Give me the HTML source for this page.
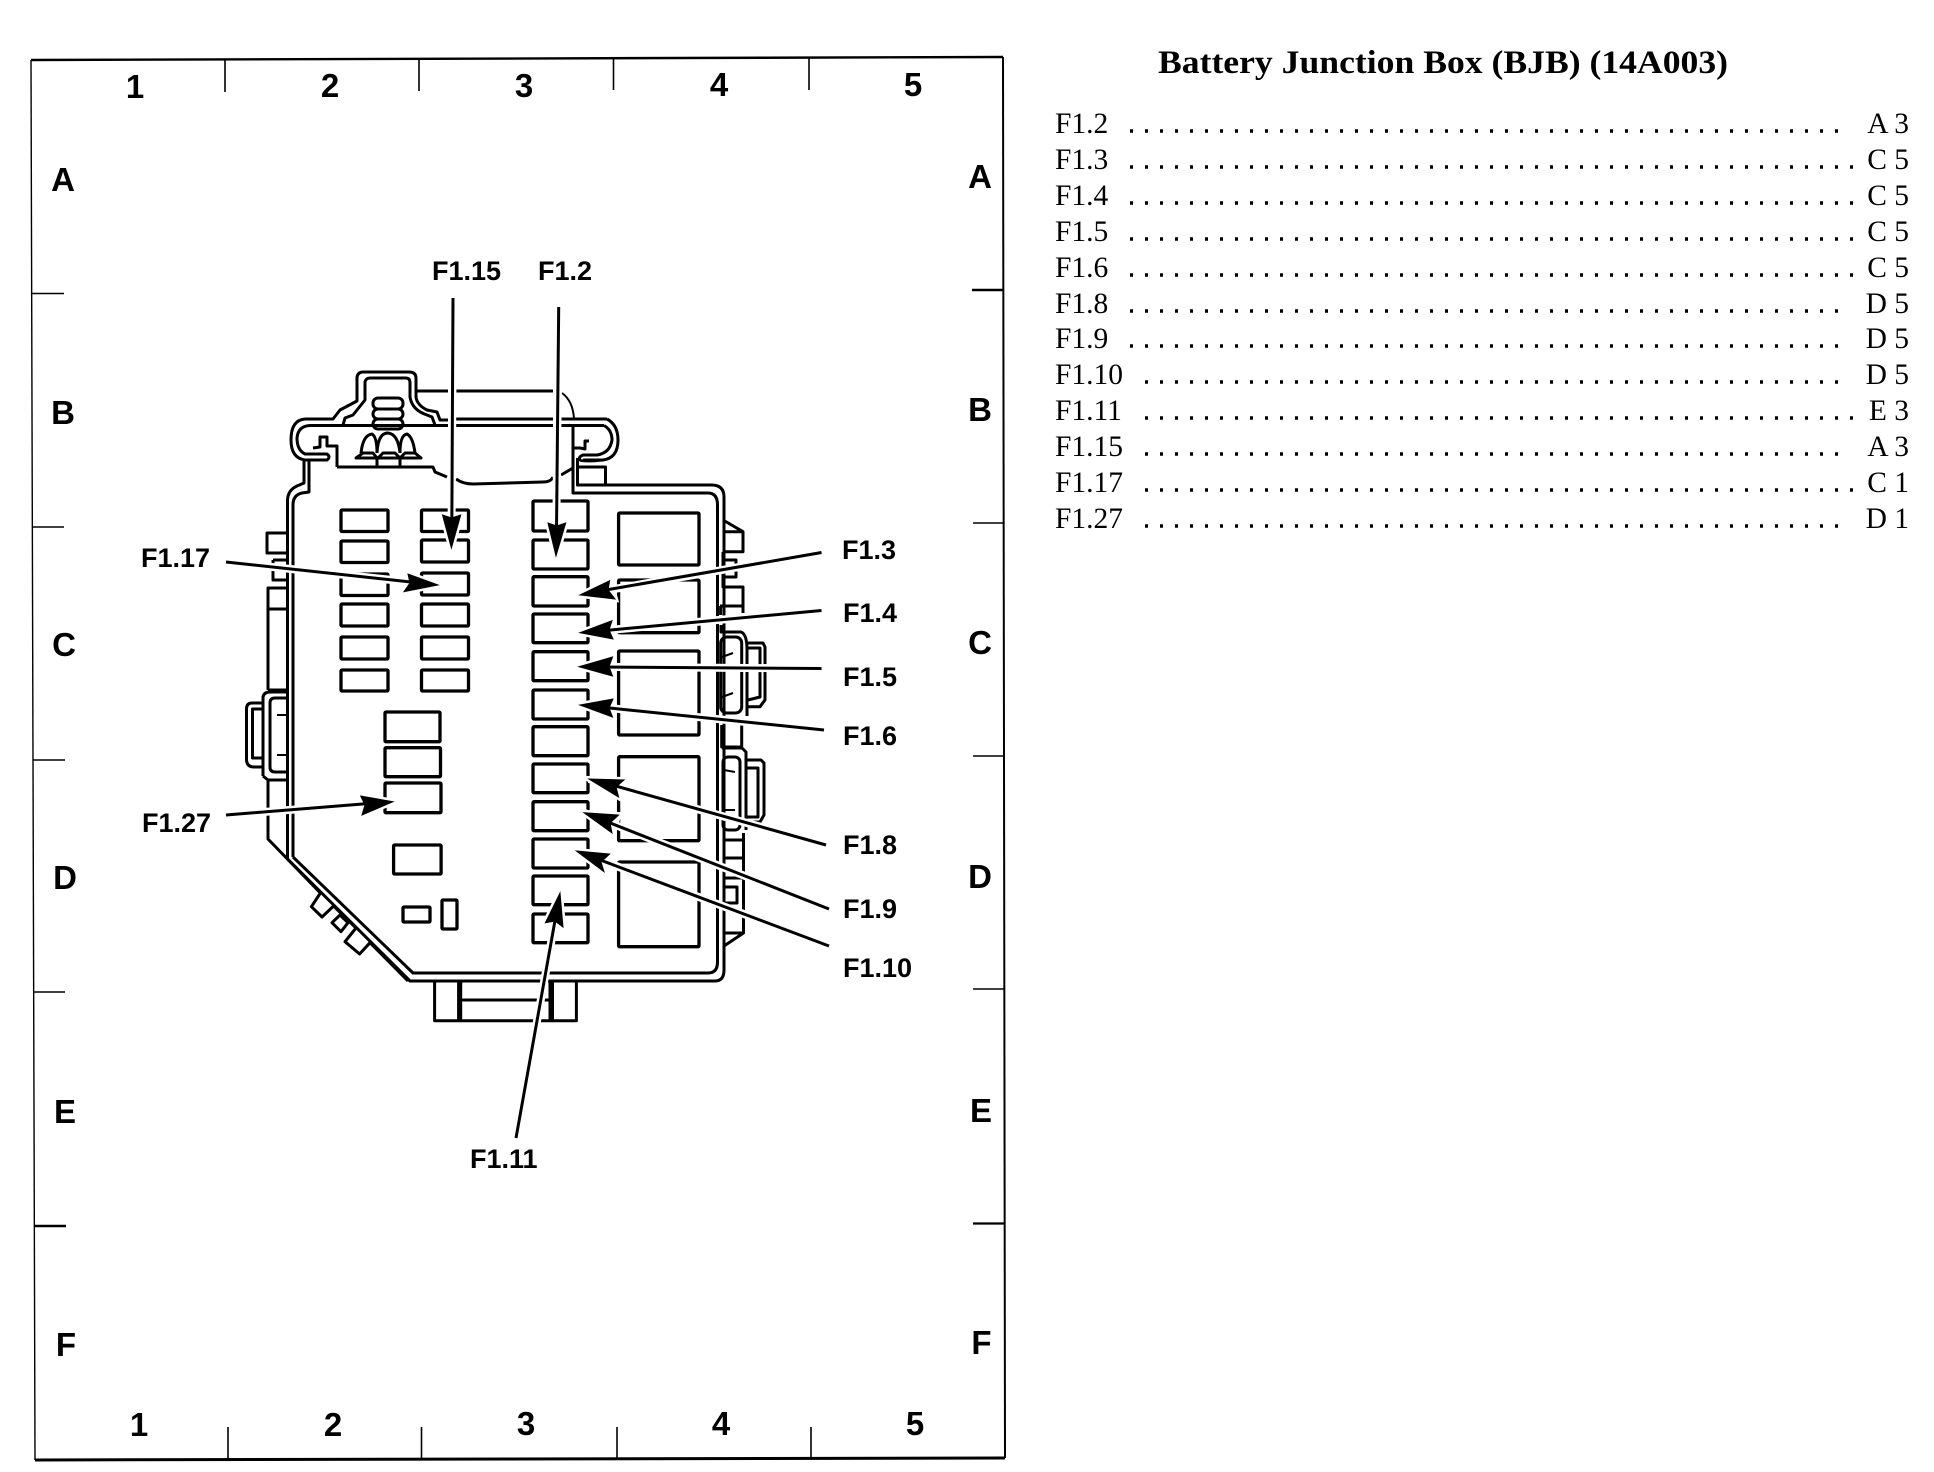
<!DOCTYPE html>
<html><head><meta charset="utf-8"><style>
html,body{margin:0;padding:0;background:#fff}
svg{display:block}
.s{font-family:"Liberation Sans",sans-serif;font-weight:bold;fill:#000}
.g{font-size:33px;text-anchor:middle}
.l{font-size:27px}
.t{font-family:"Liberation Serif",serif;font-size:29.5px;fill:#000}
.r{text-anchor:end}
.h{font-family:"Liberation Serif",serif;font-weight:bold;font-size:33px;fill:#000}
.d{stroke:#000;stroke-width:3.4;stroke-dasharray:3 12;fill:none}
.m{fill:none;stroke:#000;stroke-width:3;stroke-linejoin:round}
.f rect{fill:#fff;stroke:#000;stroke-width:3.3;rx:1}
.hl line{stroke:#fff;stroke-width:8}
.hl polygon{fill:#fff;stroke:#fff;stroke-width:6}
.a line{stroke:#000;stroke-width:3}
.a polygon{fill:#000;stroke:#000;stroke-width:1}
</style></head><body>
<svg width="1934" height="1472" viewBox="0 0 1934 1472" xmlns="http://www.w3.org/2000/svg">
<rect width="1934" height="1472" fill="#fff"/>
<!-- frame -->
<g stroke="#000" fill="none">
<line x1="31" y1="60" x2="1003" y2="57" stroke-width="2.4"/>
<line x1="31" y1="60" x2="35" y2="1460" stroke-width="1.4"/>
<line x1="1003" y1="57" x2="1005" y2="1458" stroke-width="2"/>
<line x1="35" y1="1460" x2="1005" y2="1458" stroke-width="3"/>
<g stroke-width="1.6">
<line x1="225" y1="59" x2="225" y2="92"/><line x1="419" y1="59" x2="419" y2="91"/><line x1="613.5" y1="58" x2="613.5" y2="90"/><line x1="809" y1="58" x2="809" y2="90"/>
<line x1="228" y1="1427" x2="228" y2="1460"/><line x1="421.5" y1="1427" x2="421.5" y2="1460"/><line x1="617" y1="1427" x2="617" y2="1459"/><line x1="811" y1="1427" x2="811" y2="1459"/>
<line x1="32" y1="293.5" x2="64" y2="293.5"/><line x1="32" y1="527" x2="64" y2="527"/><line x1="33" y1="760" x2="65" y2="760"/><line x1="34" y1="992" x2="65" y2="992"/><line x1="34" y1="1226" x2="66" y2="1226" stroke-width="2.4"/>
<line x1="972" y1="290" x2="1003" y2="290" stroke-width="2.6"/><line x1="973" y1="523" x2="1004" y2="523"/><line x1="973" y1="756" x2="1004" y2="756"/><line x1="973" y1="989" x2="1004" y2="989"/><line x1="973" y1="1223.5" x2="1005" y2="1223.5" stroke-width="2.2"/>
</g>
</g>
<!-- grid labels -->
<g class="s g">
<text x="135" y="98">1</text><text x="330" y="97">2</text><text x="524" y="97">3</text><text x="719" y="96">4</text><text x="913" y="96">5</text>
<text x="139" y="1436">1</text><text x="333" y="1436">2</text><text x="526" y="1435">3</text><text x="721" y="1435">4</text><text x="915" y="1435">5</text>
<text x="63" y="191">A</text><text x="63" y="424">B</text><text x="64" y="656">C</text><text x="65" y="889">D</text><text x="65" y="1123">E</text><text x="66" y="1356">F</text>
<text x="980" y="188">A</text><text x="980" y="421">B</text><text x="980" y="654">C</text><text x="980" y="888">D</text><text x="981" y="1122">E</text><text x="981.5" y="1354">F</text>
</g>
<!-- housing -->
<g class="m">
<path d="M287.5 860V500Q288 490 297 486L304 483V460"/>
<path d="M293 857V505Q293 495 302 493L309 492V461"/>
<path d="M293 857L413 973H708Q717.5 973 717.5 962V505Q717.5 493 708 493H573V445"/>
<path d="M287.5 859L410 981H715Q724 981 724 970V497Q724 485 711.5 485H577.5V460"/>
<!-- ears and bump -->
<path d="M323 460H305Q291 458 291 440Q291 420 305 419H333L340 410L357 401L357 377Q358 372 363 372H409Q416 372 416 378V397Q417 405 427 410L437 412L440 420H448"/>
<path d="M323 454H305Q297 450 297 438Q298 426 310 425.5H448"/>
<path d="M343 425L345 418L353 415L365 400V382Q366 378 370 378H406Q410 378 410 383V397Q412 410 427 415L432 417L435 425"/>
<line x1="416" y1="391" x2="448" y2="391"/><line x1="456" y1="391" x2="553" y2="391"/>
<line x1="456" y1="419" x2="553" y2="419"/><line x1="456" y1="425.5" x2="553" y2="425.5"/>
<line x1="561" y1="419" x2="607" y2="419"/><line x1="561" y1="425.5" x2="604" y2="425.5"/>
<path d="M562 393Q573 401 574 419" stroke-width="2"/>
<path d="M607 419Q618 425 618 440Q618 458 603 460H583"/>
<path d="M604 425.5Q612 430 612 440Q610 453 597 455H583Q578 457 580 460Q582 462 603 460"/>
<path d="M323 454H327Q331 457 327 460H305"/>
<!-- T pieces -->
<path d="M313 448L320 447V437H327V446H337V467"/>
<path d="M337 467H433L435 472L447 477"/>
<path d="M456 479Q463 484 473 484L543 482Q551 482 553 477"/>
<path d="M561 475L573 468"/>
<path d="M573 425.5V448H580L585 449V441H589"/>
<rect x="577.5" y="467" width="28" height="18"/>
<path d="M577.5 458V485"/>
<!-- left flange -->
<path d="M288 533H267V553H288"/>
<path d="M273 560H287M273 560V580H287"/>
<path d="M288 588H268V690M268 609H288M268 690H288"/>
<path d="M263 703H252Q246.5 703 246.5 709V760Q247 767 254 767H263M263 709H252.5V758H263"/>
<path d="M263 776V697Q264 692 270 692H288"/>
<path d="M288 698H275Q270 698 270 703V767Q270 772 275 772H288"/>
<path d="M277 715H286M277 755H286" stroke-width="2"/>
<path d="M263 776L268 780H288M268 780V839L320.4 893L311.4 906.7L322 917L333.6 906L356 928L345 941.7L359.6 954L370 942.7L408 981"/>
<path d="M332 922.7L340 915L348 922.7L341 931.7Z"/>
<!-- right flange -->
<path d="M723 520L743 531.7V551.7H723M723 531.7H743"/>
<path d="M723 560H736V577H723"/>
<path d="M723 552V587H743V613M720 606H743M720.6 606V615"/>
<path d="M721 625V632H741Q747 634 747 650V716"/>
<rect x="720.7" y="637" width="21" height="76" rx="6"/>
<path d="M747 643H763L765 647V700L760 706.7H748M748 648H760V697L748 700"/>
<path d="M722 657L733 653M722 697L733 693" stroke-width="2"/>
<path d="M721.7 725V747H741.7V725M722 748H742L746 752V830"/>
<rect x="723" y="757" width="17" height="73" rx="5"/>
<path d="M747 760H761L764 763V815L760 822H747M747 768H758V817H747"/>
<path d="M724 770L735 772M724 810H735" stroke-width="2"/>
<path d="M723 840H743.5V858H723M743.5 833V933M724 933H743.5L724 946M723 878H743.5M723 887H737V903H723"/>
<!-- bottom connector -->
<path d="M434.6 981V1020.7H576.4V981M458.6 981V1020.7M460.7 981V1020.7M550 981V1020.7M552.5 981V1020.7M460.7 1000H550"/>
<!-- terminal bells -->
<rect x="373" y="398" width="30" height="11" rx="5"/>
<rect x="373" y="409" width="30" height="10" rx="5"/>
<rect x="373" y="419" width="30" height="10" rx="5"/>
<path d="M361 453Q363 435 372 434Q377 437 377 453M377 453Q378 433 388 433Q398 434 400 453M400 453Q400 435 407 434Q413 437 415 453"/>
<path d="M356 458L363 453H373L377 458H356ZM378 458L383 453H395L400 458H378ZM400 458L405 453H415L421 458H400Z"/>
<path d="M377 458V467M400 458V467"/>
</g>
<!-- fuses -->
<g class="f">
<rect x="341" y="510" width="47" height="21.5"/><rect x="341" y="541" width="47" height="21.5"/><rect x="341" y="574" width="47" height="21.5"/><rect x="341" y="604" width="47" height="22"/><rect x="341" y="637" width="47" height="22"/><rect x="341" y="670" width="47" height="21"/>
<rect x="421.5" y="510" width="47" height="21.5"/><rect x="421.5" y="540" width="47" height="22"/><rect x="421.5" y="573" width="47" height="22"/><rect x="421.5" y="604" width="47" height="22"/><rect x="421.5" y="637" width="47" height="22"/><rect x="421.5" y="670" width="47" height="21"/>
<rect x="385" y="712" width="55" height="29.7"/><rect x="385" y="747.7" width="55.5" height="29"/><rect x="385" y="783" width="56" height="29.7"/>
<rect x="393.6" y="845" width="47.5" height="29"/>
<rect x="403" y="907" width="27" height="15"/><rect x="442" y="900" width="15" height="29"/>
<rect x="533" y="501" width="55" height="30"/><rect x="533" y="540" width="55" height="29"/><rect x="533" y="576.7" width="55" height="29.3"/><rect x="533" y="614" width="55" height="28.7"/><rect x="533" y="651.7" width="55" height="29"/><rect x="533" y="690" width="55" height="29"/><rect x="533" y="726.7" width="55" height="29"/><rect x="533" y="764" width="55" height="28.7"/><rect x="533" y="801.7" width="55" height="29"/><rect x="533" y="839" width="55" height="29"/><rect x="533" y="876" width="55" height="28.7"/><rect x="533" y="914" width="55" height="28.7"/>
<rect x="618.6" y="513" width="80.4" height="52"/><rect x="618.6" y="580" width="80.4" height="52.7"/><rect x="618.6" y="651" width="80.4" height="84"/><rect x="618.6" y="756.7" width="80.4" height="84"/><rect x="618.6" y="862" width="80.4" height="84.7"/>
</g>
<!-- arrow halos -->
<g class="hl">
<line x1="453" y1="298" x2="451.4" y2="548"/><polygon points="451.4,548 442.5,515 460.7,515"/>
<line x1="558.7" y1="307" x2="556" y2="556"/><polygon points="556,556 548,523 565.7,523"/>
<line x1="226" y1="562" x2="438" y2="585"/><polygon points="438,585 408,574 404,591.7"/>
<line x1="821.5" y1="552.5" x2="580" y2="595"/><polygon points="580,595 609.6,580.7 615,599"/>
<line x1="821.5" y1="610.5" x2="580" y2="632.7"/><polygon points="580,632.7 612,620.7 613,639"/>
<line x1="821.5" y1="668.5" x2="579" y2="666.7"/><polygon points="579,666.7 612.5,657 612.5,676"/>
<line x1="824" y1="730" x2="580" y2="705"/><polygon points="580,705 613,699 612.5,717"/>
<line x1="826" y1="845" x2="589" y2="779"/><polygon points="589,779 624,780 618.6,797"/>
<line x1="829" y1="909" x2="584" y2="812.7"/><polygon points="584,812.7 618.6,815 612,833"/>
<line x1="829" y1="946" x2="576.4" y2="851"/><polygon points="576.4,851 609.6,854 604,871.7"/>
<line x1="516" y1="1138" x2="560" y2="893"/><polygon points="560,893 545.4,922.7 563,927"/>
<line x1="226" y1="815" x2="393" y2="801.7"/><polygon points="393,801.7 360.7,796 362,815"/>
</g>
<!-- arrows -->
<g class="a">
<line x1="453" y1="298" x2="451.8" y2="530"/><polygon points="451.4,548 442.5,515 451.6,518 460.7,515"/>
<line x1="558.7" y1="307" x2="556.5" y2="530"/><polygon points="556,556 548,523 556.8,526 565.7,523"/>
<line x1="226" y1="562" x2="420" y2="583"/><polygon points="438,585 408,574 410,583 404,591.7"/>
<line x1="821.5" y1="552.5" x2="600" y2="591"/><polygon points="580,595 609.6,580.7 608,590 615,599"/>
<line x1="821.5" y1="610.5" x2="600" y2="631"/><polygon points="580,632.7 612,620.7 609,630 613,639"/>
<line x1="821.5" y1="668.5" x2="600" y2="667"/><polygon points="579,666.7 612.5,657 609,666.7 612.5,676"/>
<line x1="824" y1="730" x2="600" y2="707"/><polygon points="580,705 613,699 609,708 612.5,717"/>
<line x1="826" y1="845" x2="605" y2="783"/><polygon points="589,779 624,780 616,787 618.6,797"/>
<line x1="829" y1="909" x2="600" y2="819"/><polygon points="584,812.7 618.6,815 610,823 612,833"/>
<line x1="829" y1="946" x2="595" y2="858"/><polygon points="576.4,851 609.6,854 601,862 604,871.7"/>
<line x1="516" y1="1138" x2="556" y2="915"/><polygon points="560,893 545.4,922.7 555,921 563,927"/>
<line x1="226" y1="815" x2="375" y2="803"/><polygon points="393,801.7 360.7,796 365,805 362,815"/>
</g>
<!-- callout labels -->
<g class="s l">
<text x="432" y="280">F1.15</text><text x="538" y="280">F1.2</text>
<text x="141" y="567">F1.17</text><text x="142" y="832">F1.27</text>
<text x="842" y="559">F1.3</text><text x="843" y="622">F1.4</text><text x="843" y="686">F1.5</text><text x="843" y="745">F1.6</text>
<text x="843" y="854">F1.8</text><text x="843" y="918">F1.9</text><text x="843" y="977">F1.10</text>
<text x="470" y="1168">F1.11</text>
</g>
<!-- right list -->
<text class="h" x="1158" y="73" textLength="570" lengthAdjust="spacingAndGlyphs">Battery Junction Box (BJB) (14A003)</text>
<g class="t">
<text x="1055" y="133">F1.2</text><text x="1055" y="169">F1.3</text><text x="1055" y="205">F1.4</text><text x="1055" y="241">F1.5</text><text x="1055" y="277">F1.6</text><text x="1055" y="313">F1.8</text><text x="1055" y="348">F1.9</text><text x="1055" y="384">F1.10</text><text x="1055" y="420">F1.11</text><text x="1055" y="456">F1.15</text><text x="1055" y="492">F1.17</text><text x="1055" y="528">F1.27</text>
<g class="r">
<text x="1909" y="133">A 3</text><text x="1909" y="169">C 5</text><text x="1909" y="205">C 5</text><text x="1909" y="241">C 5</text><text x="1909" y="277">C 5</text><text x="1909" y="313">D 5</text><text x="1909" y="348">D 5</text><text x="1909" y="384">D 5</text><text x="1909" y="420">E 3</text><text x="1909" y="456">A 3</text><text x="1909" y="492">C 1</text><text x="1909" y="528">D 1</text>
</g>
</g>
<g class="d">
<line x1="1130" y1="131" x2="1846" y2="131"/>
<line x1="1130" y1="167" x2="1863" y2="167"/>
<line x1="1130" y1="203" x2="1863" y2="203"/>
<line x1="1130" y1="239" x2="1863" y2="239"/>
<line x1="1130" y1="275" x2="1863" y2="275"/>
<line x1="1130" y1="311" x2="1846" y2="311"/>
<line x1="1130" y1="346" x2="1846" y2="346"/>
<line x1="1145" y1="382" x2="1846" y2="382"/>
<line x1="1145" y1="418" x2="1863" y2="418"/>
<line x1="1145" y1="454" x2="1846" y2="454"/>
<line x1="1145" y1="490" x2="1863" y2="490"/>
<line x1="1145" y1="526" x2="1846" y2="526"/>
</g>
</svg>
</body></html>
